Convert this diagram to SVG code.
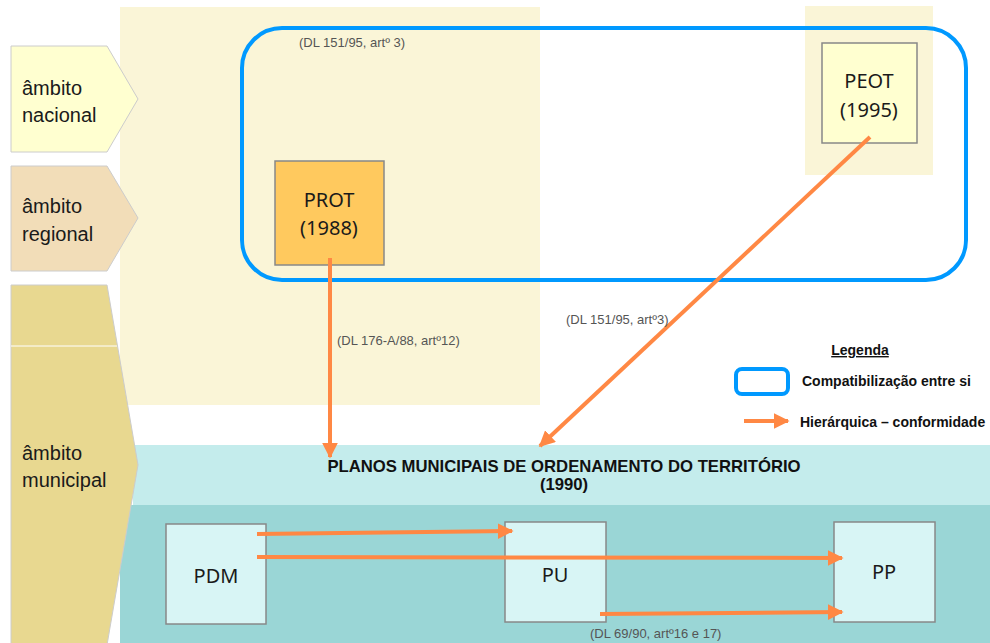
<svg xmlns="http://www.w3.org/2000/svg" width="990" height="643" viewBox="0 0 990 643">
<style>
.lab{font-family:"Liberation Sans Narrow","Liberation Sans",Arial,sans-serif;font-size:20px;fill:#1a1a1a}
.nd{font-family:"Noto Sans","Open Sans",sans-serif;font-size:20px;fill:#1a1a1a;text-anchor:middle}
.ref{font-family:"Liberation Sans",Arial,sans-serif;font-size:13px;fill:#555}
.bold{font-family:"Liberation Sans Narrow","Liberation Sans",Arial,sans-serif;font-weight:bold;fill:#111}
.box{stroke:#888;stroke-width:1.5}
.arr{stroke:#FF8844;stroke-width:4;fill:none;marker-end:url(#ah)}
.blue{fill:none;stroke:#0099FF;stroke-width:4}
</style>
<defs>
<marker id="ah" viewBox="0 0 10 10" refX="9" refY="5" markerWidth="4" markerHeight="4" orient="auto" markerUnits="strokeWidth">
<path d="M0,0 L10,5 L0,10 z" fill="#FF8844"/>
</marker>
</defs>
<rect width="990" height="643" fill="#fff"/>
<rect x="120" y="7" width="420" height="398" fill="#FAF5D7"/>
<rect x="805" y="6" width="128" height="169" fill="#FAF5D7"/>
<rect x="120" y="505" width="870" height="138" fill="#9AD6D6"/>
<rect x="133" y="445" width="857" height="60" fill="#C4ECEC"/>
<g id="nacional">
<polygon points="11,46 107,46 138,99 107,152 11,152" fill="#FFFFD0" stroke="#ccc" stroke-width="1"/>
<text class="lab" x="22" y="95">âmbito</text>
<text class="lab" x="22" y="122">nacional</text>
</g>
<g id="regional">
<polygon points="11,166 107,166 138,218 107,271 11,271" fill="#F2DDB8" stroke="#ccc" stroke-width="1"/>
<text class="lab" x="22" y="213">âmbito</text>
<text class="lab" x="22" y="241">regional</text>
</g>
<g id="municipal">
<polygon points="11,285 107,285 138,465 107,645 11,645" fill="#E8D890" stroke="#ccc" stroke-width="1"/>
<line x1="11" y1="346" x2="117" y2="346" stroke="#fff" stroke-width="1"/>
<text class="lab" x="22" y="460">âmbito</text>
<text class="lab" x="22" y="487">municipal</text>
</g>
<rect class="blue" x="242" y="28" width="724" height="252" rx="40"/>
<text class="ref" x="299" y="47" font-size="11.4">(DL 151/95, artº 3)</text>
<g id="PROT">
<rect class="box" x="275" y="161" width="109" height="104" fill="#FFC95E"/>
<text class="nd" x="329" y="207">PROT</text>
<text class="nd" x="329" y="235">(1988)</text>
</g>
<g id="PEOT">
<rect class="box" x="822" y="43" width="95" height="100" fill="#FFFFD0"/>
<text class="nd" x="869" y="88">PEOT</text>
<text class="nd" x="869" y="117">(1995)</text>
</g>
<g id="PMOT">
<text class="bold" x="564" y="472" font-size="16.7" text-anchor="middle">PLANOS MUNICIPAIS DE ORDENAMENTO DO TERRITÓRIO</text>
<text class="bold" x="564" y="490" font-size="16.7" text-anchor="middle">(1990)</text>
</g>
<g id="PDM">
<rect class="box" x="166" y="524" width="100" height="100" fill="#D8F5F5"/>
<text class="nd" x="216" y="583">PDM</text>
</g>
<g id="PU">
<rect class="box" x="505" y="522" width="101" height="100" fill="#D8F5F5"/>
<text class="nd" x="555" y="582">PU</text>
</g>
<g id="PP">
<rect class="box" x="834" y="522" width="101" height="100" fill="#D8F5F5"/>
<text class="nd" x="884" y="579">PP</text>
</g>
<g id="connectors">
<line class="arr" x1="330" y1="258" x2="330" y2="457"/>
<line class="arr" x1="870" y1="137" x2="540" y2="446"/>
<line class="arr" x1="257" y1="534" x2="512" y2="531"/>
<line class="arr" x1="257" y1="557" x2="842" y2="558"/>
<line class="arr" x1="600" y1="614" x2="842" y2="612"/>
</g>
<text class="ref" x="337" y="345">(DL 176-A/88, artº12)</text>
<text class="ref" x="566" y="324">(DL 151/95, artº3)</text>
<text class="ref" x="590" y="638">(DL 69/90, artº16 e 17)</text>
<g id="legend">
<text class="bold" x="860" y="355" font-size="14" text-anchor="middle" text-decoration="underline">Legenda</text>
<rect x="736" y="369" width="52" height="25" rx="6" fill="none" stroke="#0099FF" stroke-width="4"/>
<text class="bold" x="802" y="386" font-size="14">Compatibilização entre si</text>
<line class="arr" x1="744" y1="421" x2="788" y2="421"/>
<text class="bold" x="800" y="427" font-size="14">Hierárquica – conformidade</text>
</g>
</svg>
